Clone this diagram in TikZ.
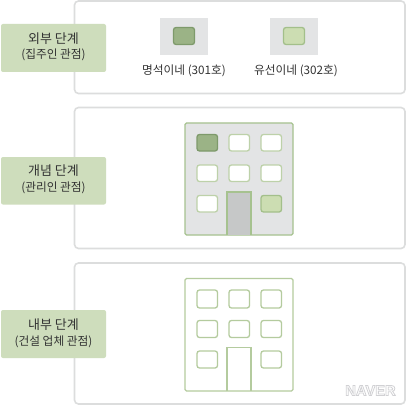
\documentclass[tikz,border=0pt]{standalone}
\usepackage{fontspec}
\setmainfont{Noto Sans CJK KR}
\newfontfamily\brandfont{Liberation Sans}
\definecolor{panelline}{HTML}{DCDDDD}
\definecolor{labelfill}{HTML}{CEDDBC}
\definecolor{greybox}{HTML}{E3E4E5}
\definecolor{bline}{HTML}{A6C28F}
\definecolor{bopen}{HTML}{B4CB9E}
\definecolor{wline}{HTML}{BDD1A9}
\definecolor{darkfill}{HTML}{9BB386}
\definecolor{darkline}{HTML}{7E9A6B}
\definecolor{lightfill}{HTML}{CCDDB2}
\definecolor{lightline}{HTML}{A3BF8A}
\definecolor{doorfill}{HTML}{C6C8C8}
\definecolor{textcol}{HTML}{333333}
\tikzset{
  panel/.style={draw=panelline,line width=1.6pt,fill=white,rounded corners=4pt},
  labelbox/.style={fill=labelfill,rounded corners=2pt},
  building/.style={draw=bline,line width=1.3pt,rounded corners=1.5pt},
  buildingopen/.style={draw=bopen,line width=1.3pt,rounded corners=1.5pt},
  win/.style={draw=wline,line width=1.3pt,fill=white,rounded corners=2.5pt},
  windark/.style={draw=darkline,line width=1.3pt,fill=darkfill,rounded corners=2.5pt},
  winlight/.style={draw=lightline,line width=1.3pt,fill=lightfill,rounded corners=2.5pt},
  winopen/.style={draw=bopen,line width=1.3pt,rounded corners=2.5pt},
  door/.style={draw=bline,line width=1.3pt},
  dooropen/.style={draw=bopen,line width=1.3pt},
  grey/.style={fill=greybox},
  ttl/.style={text=textcol,font=\fontsize{13}{15}\selectfont,inner sep=0pt},
  sub/.style={text=textcol,font=\fontsize{11.7}{14}\selectfont,inner sep=0pt},
  brand/.style={font=\brandfont\bfseries\fontsize{14.7}{16}\selectfont,inner sep=0pt}
}
\begin{document}
\begin{tikzpicture}[x=1pt,y=-1pt]
\useasboundingbox (0,0) rectangle (406,406);
\fill[white] (0,0) rectangle (406,406);
% panels
\draw[panel] (74.5,1) rectangle (405,93.5);
\draw[panel] (74.5,107.5) rectangle (405,248.5);
\draw[panel] (74.5,263) rectangle (405,404);
% labels
\fill[labelbox] (1,24) rectangle (106,72);
\fill[labelbox] (1,157) rectangle (106,204.5);
\fill[labelbox] (1,310) rectangle (106,358);
\node[ttl] (t1) at (53.5,39) {외부 단계};
\node[sub] (s1) at (53.5,55) {(집주인 관점)};
\node[ttl] (t2) at (53.5,171) {개념 단계};
\node[sub] (s2) at (53.5,187.5) {(관리인 관점)};
\node[ttl] (t3) at (53.5,325) {내부 단계};
\node[sub] (s3) at (53.5,341.5) {(건설 업체 관점)};
% external level
\fill[grey] (160,18) rectangle (208,55);
\fill[grey] (270,18) rectangle (318,55);
\draw[windark] (173.5,27.5) rectangle (194.5,44.5);
\draw[winlight] (283.5,27.5) rectangle (304.5,44.5);
\node[sub] (n1) at (184,70.5) {명석이네 (301호)};
\node[sub] (n2) at (296,70.5) {유선이네 (302호)};
% conceptual level
\draw[building,fill=greybox] (185,123) rectangle (293,235);
\draw[windark] (197,134.5) rectangle (217.5,151);
\draw[win] (229,134.5) rectangle (249.5,151);
\draw[win] (261,134.5) rectangle (281.5,151);
\draw[win] (197,165) rectangle (217.5,181.5);
\draw[win] (229,165) rectangle (249.5,181.5);
\draw[win] (261,165) rectangle (281.5,181.5);
\draw[win] (197,195.5) rectangle (217.5,212);
\draw[winlight] (261,195.5) rectangle (281.5,212);
\draw[door,fill=doorfill] (227,235) -- (227,192) -- (251,192) -- (251,235);
% internal level
\draw[buildingopen] (185,278.5) rectangle (293,391);
\draw[winopen] (197,290) rectangle (217.5,308);
\draw[winopen] (229,290) rectangle (249.5,308);
\draw[winopen] (261,290) rectangle (281.5,308);
\draw[winopen] (197,320.5) rectangle (217.5,337.5);
\draw[winopen] (229,320.5) rectangle (249.5,337.5);
\draw[winopen] (261,320.5) rectangle (281.5,337.5);
\draw[winopen] (197,351) rectangle (217.5,368);
\draw[winopen] (261,351) rectangle (281.5,368);
\draw[dooropen] (227,391) -- (227,347.5) -- (251,347.5) -- (251,391);
% watermark: one white text with a grey outline
\node[brand] (wm) at (370.5,390.5) {\special{pdf:code q 2 Tr 0.82 0.82 0.83 RG 1 1 1 rg 0.8 w}NAVER\special{pdf:code Q}};
\end{tikzpicture}
\end{document}
